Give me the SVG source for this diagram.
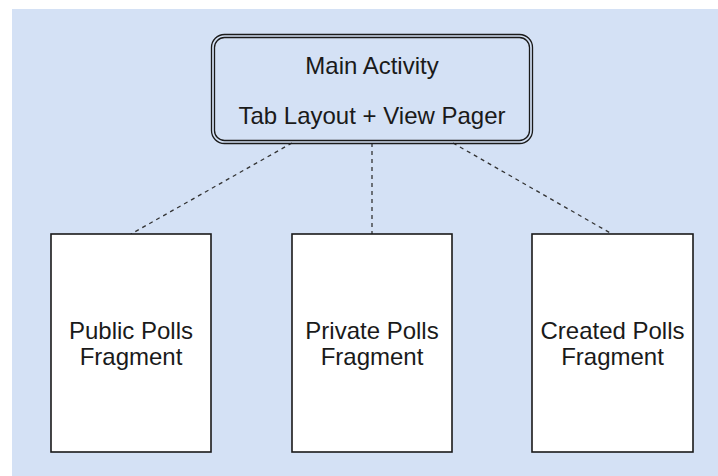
<svg xmlns="http://www.w3.org/2000/svg" width="718" height="476" viewBox="0 0 718 476">
<style>
.bg{fill:#d4e1f5}
.box{fill:#ffffff;stroke:#1a1a1a;stroke-width:1.6}
.rr{fill:none;stroke:#1a1a1a;stroke-width:1.3}
.t{font-family:"Liberation Sans",Arial,sans-serif;font-size:24px;fill:#1a1a1a;text-anchor:middle}
.c{fill:none;stroke:#333333;stroke-width:1.3;stroke-dasharray:4 4}
</style>
<rect x="0" y="0" width="718" height="476" fill="#ffffff"/>
<rect class="bg" x="12" y="9" width="706" height="467"/>
<g id="connectors">
<line class="c" x1="292" y1="143" x2="131" y2="234"/>
<line class="c" x1="372" y1="143" x2="372" y2="234"/>
<line class="c" x1="453" y1="143" x2="612" y2="234"/>
</g>
<g id="main">
<rect x="211.5" y="34.5" width="321" height="109" rx="13" fill="#ffffff" class="rr"/>
<rect x="214.5" y="37.5" width="315" height="103" rx="10" class="rr"/>
<text class="t" x="372" y="74">Main Activity</text>
<text class="t" x="372" y="124">Tab Layout + View Pager</text>
</g>
<g id="public">
<rect class="box" x="51" y="234" width="160" height="218"/>
<text class="t" x="131" y="339">Public Polls</text>
<text class="t" x="131" y="365">Fragment</text>
</g>
<g id="private">
<rect class="box" x="292" y="234" width="160" height="218"/>
<text class="t" x="372" y="339">Private Polls</text>
<text class="t" x="372" y="365">Fragment</text>
</g>
<g id="created">
<rect class="box" x="532" y="234" width="161" height="218"/>
<text class="t" x="612.5" y="339">Created Polls</text>
<text class="t" x="612.5" y="365">Fragment</text>
</g>
</svg>
